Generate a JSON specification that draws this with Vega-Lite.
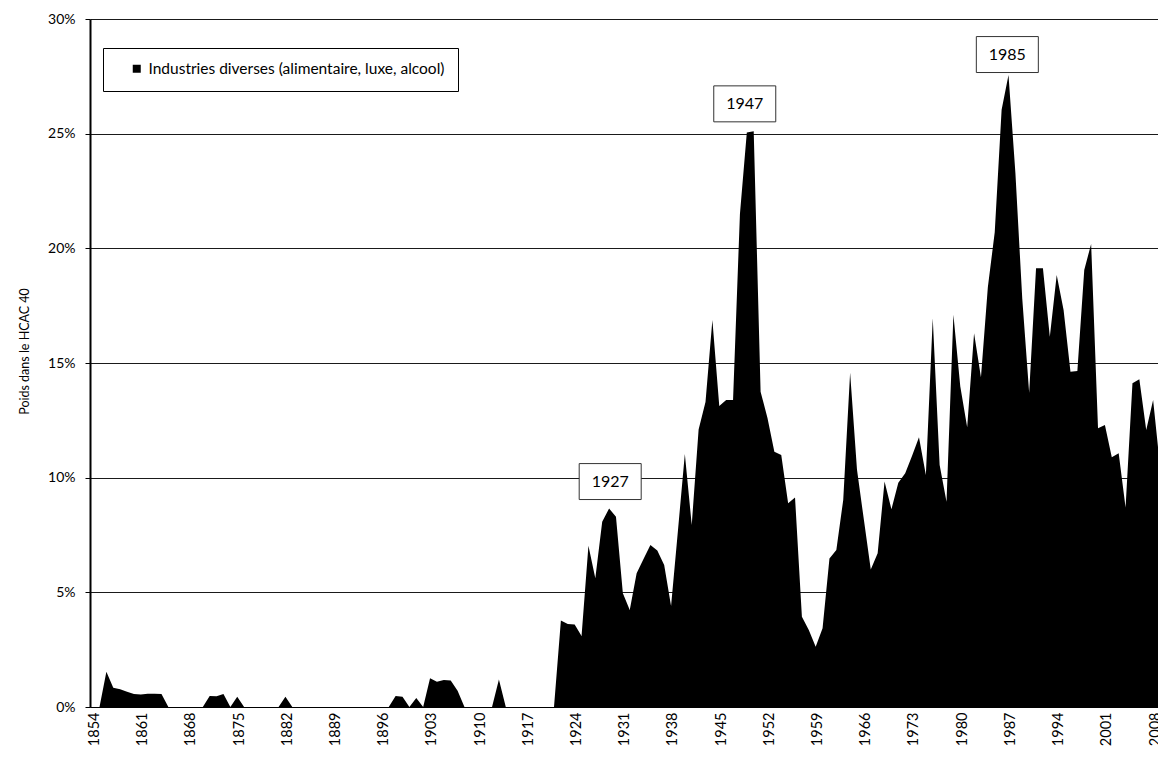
{
  "$schema": "https://vega.github.io/schema/vega-lite/v6.json",
  "width": 1070,
  "height": 688,
  "autosize": {"type": "none"},
  "padding": {"left": 90, "top": 19, "right": 0, "bottom": 55},
  "background": "white",
  "config": {"view": {"stroke": null}, "font": "Lato"},
  "layer": [
    {
      "data": {"values": [
        {"year":1854,"pct":0},{"year":1855,"pct":1.54},{"year":1856,"pct":0.84},{"year":1857,"pct":0.77},{"year":1858,"pct":0.66},{"year":1859,"pct":0.57},{"year":1860,"pct":0.55},{"year":1861,"pct":0.58},{"year":1862,"pct":0.58},{"year":1863,"pct":0.57},
        {"year":1864,"pct":0},{"year":1865,"pct":0},{"year":1866,"pct":0},{"year":1867,"pct":0},{"year":1868,"pct":0},{"year":1869,"pct":0},{"year":1870,"pct":0.48},{"year":1871,"pct":0.47},{"year":1872,"pct":0.57},{"year":1873,"pct":0},
        {"year":1874,"pct":0.45},{"year":1875,"pct":0},{"year":1876,"pct":0},{"year":1877,"pct":0},{"year":1878,"pct":0},{"year":1879,"pct":0},{"year":1880,"pct":0},{"year":1881,"pct":0.45},{"year":1882,"pct":0},{"year":1883,"pct":0},
        {"year":1884,"pct":0},{"year":1885,"pct":0},{"year":1886,"pct":0},{"year":1887,"pct":0},{"year":1888,"pct":0},{"year":1889,"pct":0},{"year":1890,"pct":0},{"year":1891,"pct":0},{"year":1892,"pct":0},{"year":1893,"pct":0},
        {"year":1894,"pct":0},{"year":1895,"pct":0},{"year":1896,"pct":0},{"year":1897,"pct":0.48},{"year":1898,"pct":0.45},{"year":1899,"pct":0},{"year":1900,"pct":0.39},{"year":1901,"pct":0},{"year":1902,"pct":1.25},{"year":1903,"pct":1.1},
        {"year":1904,"pct":1.18},{"year":1905,"pct":1.16},{"year":1906,"pct":0.71},{"year":1907,"pct":0},{"year":1908,"pct":0},{"year":1909,"pct":0},{"year":1910,"pct":0},{"year":1911,"pct":0},{"year":1912,"pct":1.2},{"year":1913,"pct":0},
        {"year":1914,"pct":0},{"year":1915,"pct":0},{"year":1916,"pct":0},{"year":1917,"pct":0},{"year":1918,"pct":0},{"year":1919,"pct":0},{"year":1920,"pct":0},{"year":1921,"pct":3.77},{"year":1922,"pct":3.62},{"year":1923,"pct":3.6},
        {"year":1924,"pct":3.1},{"year":1925,"pct":7.03},{"year":1926,"pct":5.61},{"year":1927,"pct":8.08},{"year":1928,"pct":8.66},{"year":1929,"pct":8.3},{"year":1930,"pct":4.96},{"year":1931,"pct":4.23},{"year":1932,"pct":5.83},{"year":1933,"pct":6.45},
        {"year":1934,"pct":7.06},{"year":1935,"pct":6.82},{"year":1936,"pct":6.19},{"year":1937,"pct":4.4},{"year":1938,"pct":7.7},{"year":1939,"pct":11.03},{"year":1940,"pct":7.94},{"year":1941,"pct":12.1},{"year":1942,"pct":13.3},{"year":1943,"pct":16.88},
        {"year":1944,"pct":13.13},{"year":1945,"pct":13.39},{"year":1946,"pct":13.39},{"year":1947,"pct":21.5},{"year":1948,"pct":25.05},{"year":1949,"pct":25.1},{"year":1950,"pct":13.75},{"year":1951,"pct":12.6},{"year":1952,"pct":11.13},{"year":1953,"pct":10.99},
        {"year":1954,"pct":8.88},{"year":1955,"pct":9.14},{"year":1956,"pct":3.94},{"year":1957,"pct":3.36},{"year":1958,"pct":2.63},{"year":1959,"pct":3.43},{"year":1960,"pct":6.48},{"year":1961,"pct":6.85},{"year":1962,"pct":9.03},{"year":1963,"pct":14.58},
        {"year":1964,"pct":10.34},{"year":1965,"pct":8.16},{"year":1966,"pct":6.0},{"year":1967,"pct":6.7},{"year":1968,"pct":9.83},{"year":1969,"pct":8.62},{"year":1970,"pct":9.78},{"year":1971,"pct":10.19},{"year":1972,"pct":10.96},{"year":1973,"pct":11.76},
        {"year":1974,"pct":10.12},{"year":1975,"pct":16.95},{"year":1976,"pct":10.55},{"year":1977,"pct":8.95},{"year":1978,"pct":17.1},{"year":1979,"pct":13.97},{"year":1980,"pct":12.2},{"year":1981,"pct":16.3},{"year":1982,"pct":14.38},{"year":1983,"pct":18.3},
        {"year":1984,"pct":20.7},{"year":1985,"pct":26.04},{"year":1986,"pct":27.56},{"year":1987,"pct":23.3},{"year":1988,"pct":17.8},{"year":1989,"pct":13.7},{"year":1990,"pct":19.13},{"year":1991,"pct":19.13},{"year":1992,"pct":16.15},{"year":1993,"pct":18.84},
        {"year":1994,"pct":17.31},{"year":1995,"pct":14.62},{"year":1996,"pct":14.65},{"year":1997,"pct":19.06},{"year":1998,"pct":20.19},{"year":1999,"pct":12.15},{"year":2000,"pct":12.3},{"year":2001,"pct":10.89},{"year":2002,"pct":11.06},{"year":2003,"pct":8.7},
        {"year":2004,"pct":14.12},{"year":2005,"pct":14.29},{"year":2006,"pct":12.08},{"year":2007,"pct":13.39},{"year":2008,"pct":10.5}
      ]},
      "mark": {"type": "area", "color": "black", "clip": true, "interpolate": "linear"},
      "encoding": {
        "x": {
          "field": "year", "type": "quantitative",
          "scale": {"domain": [1852.62, 2008], "nice": false, "zero": false},
          "axis": {
            "title": null,
            "values": [1854,1861,1868,1875,1882,1889,1896,1903,1910,1917,1924,1931,1938,1945,1952,1959,1966,1973,1980,1987,1994,2001,2008],
            "format": "d", "labelAngle": -90, "grid": false, "ticks": false,
            "domainColor": "black", "domainWidth": 1,
            "labelPadding": 5, "labelOffset": -5, "labelFontSize": 14.5, "labelFont": "Lato",
            "labelColor": "black", "labelFlush": false, "labelOverlap": false
          }
        },
        "y": {
          "field": "pct", "type": "quantitative",
          "scale": {"domain": [0, 30], "nice": false},
          "axis": {
            "title": "Poids dans le HCAC 40",
            "values": [0,5,10,15,20,25,30],
            "labelExpr": "datum.value + '%'",
            "grid": true, "gridColor": "#1a1a1a", "gridWidth": 1,
            "domainColor": "black", "domainWidth": 2,
            "tickColor": "black", "tickSize": 5, "tickWidth": 1,
            "labelPadding": 10, "labelFontSize": 14, "labelFont": "Lato", "labelColor": "black",
            "titleFontSize": 12.5, "titleFont": "Lato", "titleFontWeight": "normal", "titleColor": "black", "titlePadding": 16,
            "titleY": 332
          }
        },
        "color": {
          "datum": "Industries diverses (alimentaire, luxe, alcool)",
          "scale": {"range": ["black"]},
          "legend": {
            "orient": "none", "legendX": 13, "legendY": 29, "title": null,
            "strokeColor": "black", "fillColor": "white", "padding": 13,
            "symbolType": "square", "symbolSize": 64, "symbolFillColor": "black", "symbolStrokeWidth": 0,
            "labelFontSize": 15.5, "labelFont": "Lato", "labelColor": "black", "labelLimit": 800,
            "symbolOffset": 13, "labelOffset": 4
          }
        }
      }
    },
    {
      "data": {"values": [
        {"year": 1928.16, "pct": 9.83, "label": "1927"},
        {"year": 1947.7, "pct": 26.3, "label": "1947"},
        {"year": 1985.83, "pct": 28.45, "label": "1985"}
      ]},
      "layer": [
        {
          "mark": {"type": "point", "shape": "M-1,-0.58L1,-0.58L1,0.58L-1,0.58Z", "size": 3844, "filled": true, "fill": "white", "stroke": "#333", "strokeWidth": 1, "opacity": 1},
          "encoding": {
            "x": {"field": "year", "type": "quantitative"},
            "y": {"field": "pct", "type": "quantitative"}
          }
        },
        {
          "mark": {"type": "text", "font": "Lato", "fontSize": 16, "color": "black", "align": "center", "baseline": "middle"},
          "encoding": {
            "x": {"field": "year", "type": "quantitative"},
            "y": {"field": "pct", "type": "quantitative"},
            "text": {"field": "label"}
          }
        }
      ]
    }
  ]
}
